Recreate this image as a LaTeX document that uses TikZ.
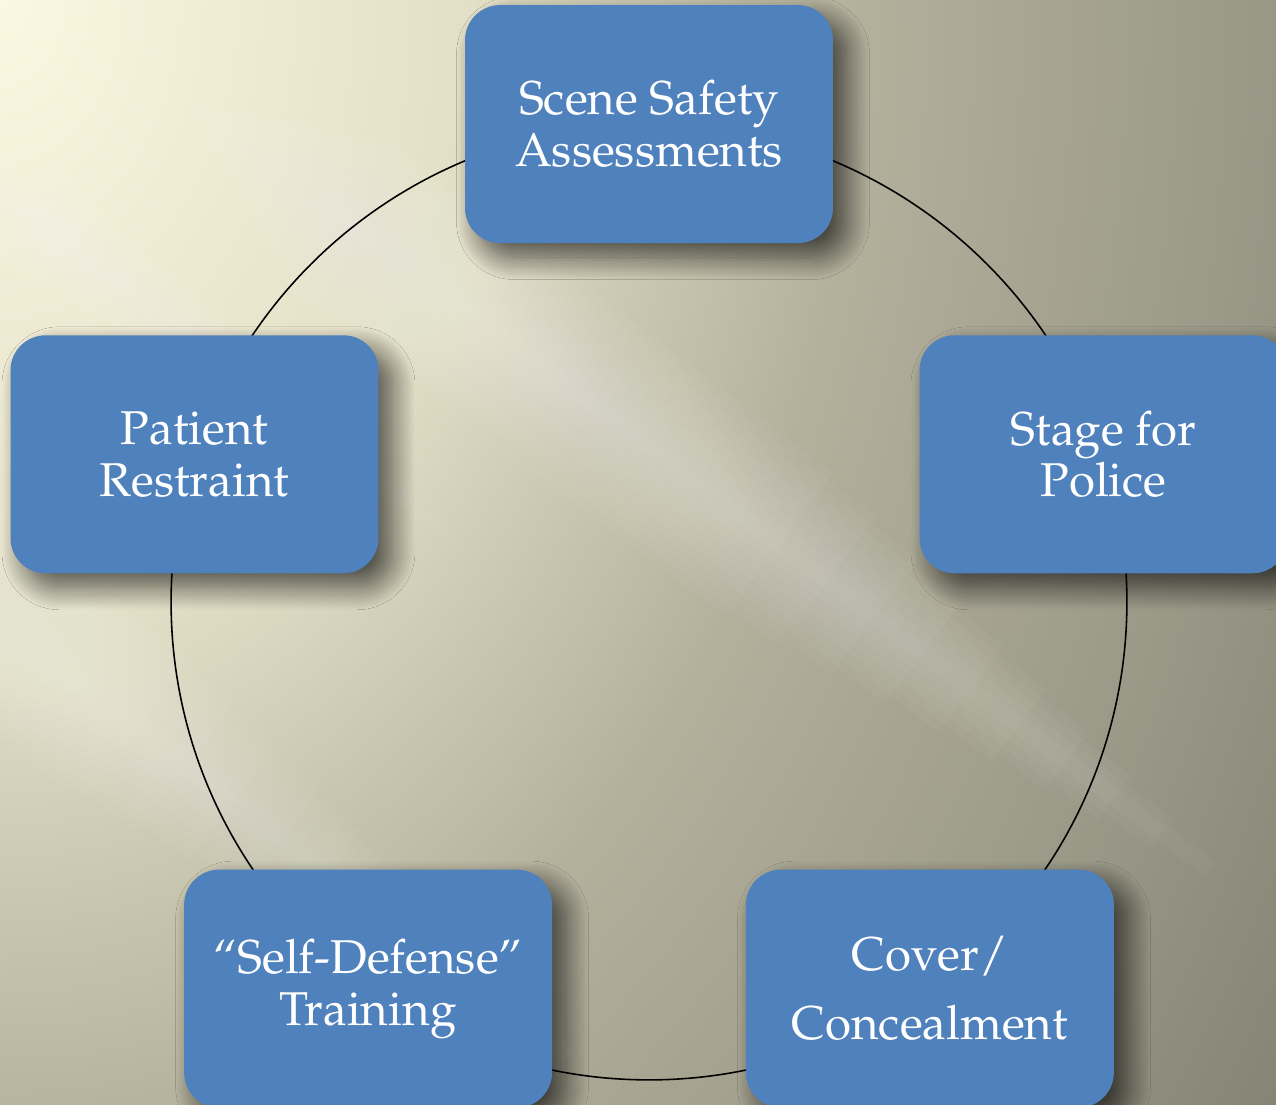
\documentclass[tikz,border=0pt]{standalone}
\usepackage[T1]{fontenc}
\usepackage{mathpazo}
\usetikzlibrary{shadows.blur}

\definecolor{boxblue}{HTML}{4F81BD}
\definecolor{bgA}{HTML}{FCF7E0}
\definecolor{bgB}{HTML}{E4E0C8}
\definecolor{bgC}{HTML}{B3B09C}
\definecolor{bgD}{HTML}{9A9887}
\definecolor{bgE}{HTML}{7C7A6B}

% warm light from the upper left corner (25bp = rim of the shaded shape)
\pgfdeclareradialshading{glow}{\pgfpoint{0bp}{0bp}}{%
  color(0bp)=(bgA); color(7bp)=(bgB); color(13bp)=(bgC);
  color(19bp)=(bgD); color(25bp)=(bgE); color(50bp)=(bgE)}

\begin{document}
\begin{tikzpicture}[x=0.02cm,y=0.02cm,
    topic/.style={fill=boxblue,rounded corners=0.7cm,
      minimum width=7.36cm,minimum height=4.76cm,
      align=center,text=white,font=\fontsize{27}{29.5}\selectfont,
      blur shadow={shadow xshift=0.28cm,shadow yshift=-0.28cm,
        shadow blur radius=0.45cm,shadow blur steps=20,
        shadow opacity=65}},
    ray/.style={white,opacity=0.035}]
    \def\radius{9.56cm}
    \useasboundingbox (0,0) rectangle (1276,1105);

    % backdrop with the light streaks (centre, half width, start, end)
    \begin{scope}
        \clip (0,0) rectangle (1276,1105);
        \shade[shading=glow] (0,1105) ellipse (1650 and 2200);
        \begin{scope}[shift={(0,1105)},rotate=-37]
            \foreach \c/\w/\s/\e in {34/90/200/1550,-154/55/0/750,-501/90/0/1150}
                \foreach \k in {1,...,10}
                    \fill[ray] (\s+\k*20,\c-\w*\k/10) rectangle (\e-\k*60,\c+\w*\k/10);
        \end{scope}
    \end{scope}

    \coordinate (hub) at (649,503);
    \node[draw,circle,line width=0.9pt,inner sep=0,
          minimum size=2*\radius] (ring) at (hub) {};

    \path (hub) ++(90:\radius)
          node[topic] (scene) {Scene Safety\\Assessments};
    \path (hub) ++(18:\radius)
          node[topic] (police) {Stage for\\Police};
    \path (hub) ++(-54:\radius)
          node[topic] (cover) {Cover/\\[10pt]Concealment};
    \path (hub) ++(-126:\radius)
          node[topic] (defense) {``Self-Defense''\\Training};
    \path (hub) ++(162:\radius)
          node[topic] (restraint) {Patient\\Restraint};
\end{tikzpicture}
\end{document}
